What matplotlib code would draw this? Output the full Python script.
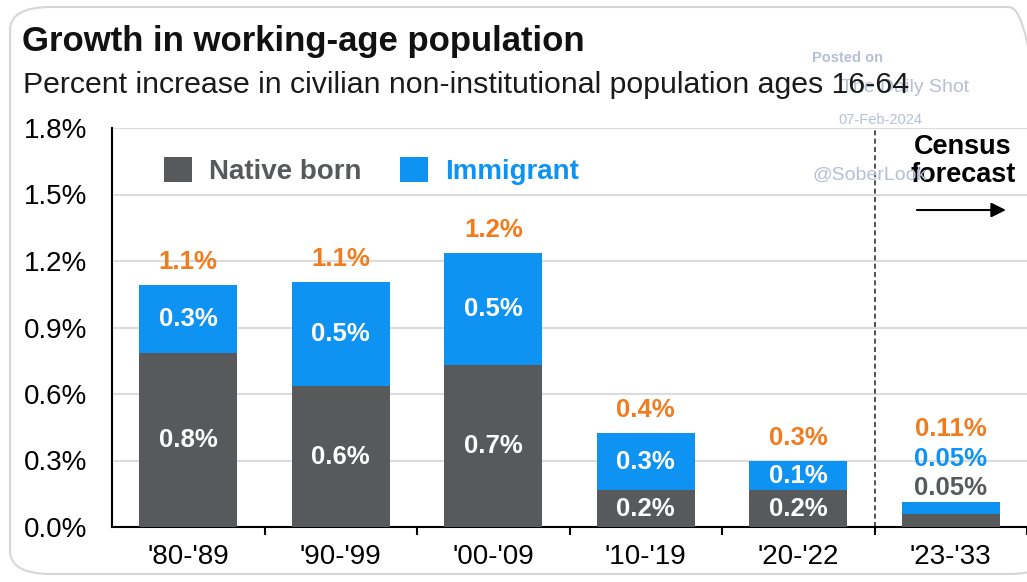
import matplotlib.pyplot as plt
from matplotlib.patches import FancyBboxPatch

# data
periods = ["'80-'89", "'90-'99", "'00-'09", "'10-'19", "'20-'22", "'23-'33"]
native = [0.785, 0.635, 0.73, 0.165, 0.165, 0.058]
immigrant = [0.305, 0.47, 0.505, 0.26, 0.133, 0.055]
native_labels = ["0.8%", "0.6%", "0.7%", "0.2%", "0.2%", "0.05%"]
immigrant_labels = ["0.3%", "0.5%", "0.5%", "0.3%", "0.1%", "0.05%"]
total_labels = ["1.1%", "1.1%", "1.2%", "0.4%", "0.3%", "0.11%"]
yticks = [0.0, 0.3, 0.6, 0.9, 1.2, 1.5, 1.8]

GRAY = '#58595b'
BLUE = '#0f93f2'
ORANGE = '#f07c1e'

plt.rcParams['font.family'] = ['Liberation Sans', 'DejaVu Sans']


def main():
    fig = plt.figure(figsize=(10.27, 5.82), dpi=100)
    W, H = 1027, 582

    # rounded frame around the card
    frame = FancyBboxPatch((10 / W, 8 / H), 1040 / W, 567 / H,
                           boxstyle='round,pad=0,rounding_size=0.04',
                           transform=fig.transFigure, fill=False,
                           edgecolor='#d6d6d6', lw=1.5, zorder=0)
    fig.patches.append(frame)

    # watermark (sits behind the subtitle and the forecast note, as in the source)
    wm = dict(color='#b7bfd6', ha='center', va='center', zorder=0)
    fig.text(848 / W, 1 - 58 / H, 'Posted on', fontsize=10.5, fontweight='bold', **wm)
    fig.text(905 / W, 1 - 88 / H, 'The Daily Shot', fontsize=14, **wm)
    fig.text(880 / W, 1 - 120 / H, '07-Feb-2024', fontsize=10.5, **wm)
    fig.text(870 / W, 1 - 175 / H, '@SoberLook', fontsize=14, **wm)

    fig.text(22 / W, 1 - 42 / H, 'Growth in working-age population',
             fontsize=25, fontweight='bold', va='center', color='#111111')
    fig.text(23 / W, 1 - 85 / H,
             'Percent increase in civilian non-institutional population ages 16-64',
             fontsize=21.8, va='center', color='#1a1a1a')

    ax = fig.add_axes([112 / W, 55 / H, 915 / W, 399 / H])
    ax.patch.set_alpha(0)
    x = list(range(len(periods)))
    width = 0.64
    ax.bar(x, native, width, color=GRAY, label='Native born', zorder=3)
    ax.bar(x, immigrant, width, bottom=native, color=BLUE, label='Immigrant', zorder=3)

    for i in x:
        tot = native[i] + immigrant[i]
        if i < 5:
            ax.text(i, native[i] / 2, native_labels[i], ha='center', va='center',
                    color='white', fontsize=18.5, fontweight='bold', zorder=4)
            ax.text(i, native[i] + immigrant[i] / 2, immigrant_labels[i], ha='center',
                    va='center', color='white', fontsize=18.5, fontweight='bold', zorder=4)
            ax.text(i, tot + 0.105, total_labels[i], ha='center', va='center',
                    color=ORANGE, fontsize=18.5, fontweight='bold', zorder=4)
        else:
            ax.text(i, tot + 0.065, native_labels[i], ha='center', va='center',
                    color=GRAY, fontsize=18.5, fontweight='bold', zorder=4)
            ax.text(i, tot + 0.195, immigrant_labels[i], ha='center', va='center',
                    color=BLUE, fontsize=18.5, fontweight='bold', zorder=4)
            ax.text(i, tot + 0.33, total_labels[i], ha='center', va='center',
                    color=ORANGE, fontsize=18.5, fontweight='bold', zorder=4)

    ax.set_xlim(-0.5, 5.5)
    ax.set_ylim(0, 1.8)
    ax.set_yticks(yticks)
    ax.set_yticklabels([f'{v:.1f}%' for v in yticks])
    ax.set_xticks(x)
    ax.set_xticklabels(periods)
    ax.set_xticks([i + 0.5 for i in x], minor=True)
    ax.tick_params(axis='x', which='major', length=0, pad=12, labelsize=20)
    ax.tick_params(axis='x', which='minor', length=6, width=1.5, direction='out')
    ax.tick_params(axis='y', length=0, pad=18, labelsize=20)
    ax.grid(axis='y', color='#dcdcdc', lw=1.5, zorder=0)
    for s in ['top', 'right']:
        ax.spines[s].set_visible(False)
    ax.spines['left'].set_linewidth(1.5)
    ax.spines['bottom'].set_linewidth(1.5)

    # forecast divider and note
    ax.axvline(4.5, color='#333333', lw=1.2, ls=(0, (3, 2)), zorder=2)
    ax.text(5.08, 1.65, 'Census\nforecast', ha='center', va='center',
            fontsize=19.5, fontweight='bold', linespacing=1.1, zorder=4)
    ax.annotate('', xy=(5.38, 1.43), xytext=(4.76, 1.43),
                arrowprops=dict(arrowstyle='-|>', color='black', lw=1.5,
                                mutation_scale=22))

    leg = ax.legend(loc='upper left', bbox_to_anchor=(0.03, 0.99), ncol=2,
                    frameon=False, fontsize=20, handlelength=1.0, handleheight=1.0,
                    columnspacing=1.4, handletextpad=0.6)
    for t, c in zip(leg.get_texts(), [GRAY, BLUE]):
        t.set_color(c)
        t.set_fontweight('bold')

    fig.savefig('out.png', dpi=100)


if __name__ == "__main__":
    main()
